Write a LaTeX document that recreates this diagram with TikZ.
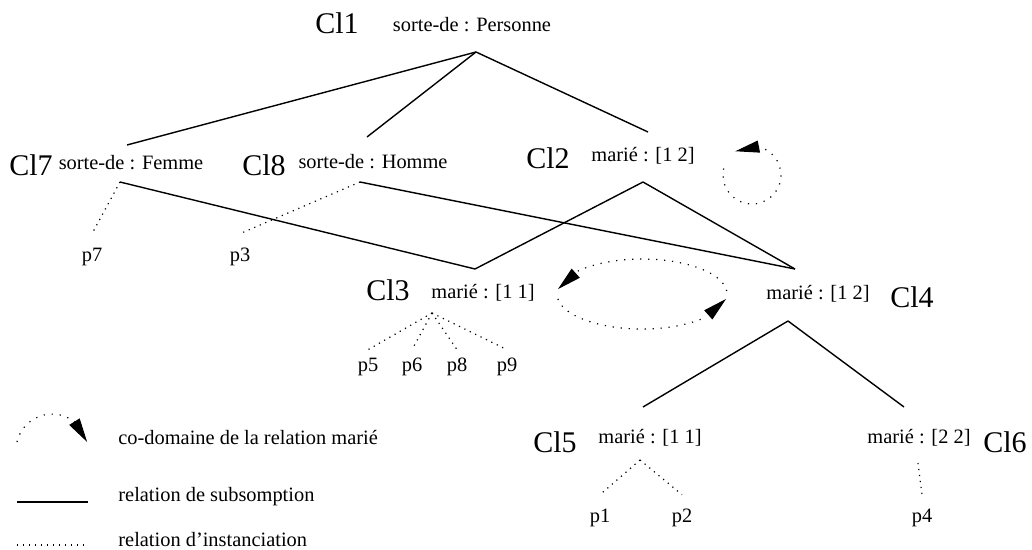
\documentclass[tikz,border=0pt]{standalone}
\usepackage{fontspec}
\setmainfont{Liberation Serif}
\usepackage{tikz}
\usetikzlibrary{arrows.meta, bending}

\begin{document}
\begin{tikzpicture}[
  x=0.5pt, y=-0.5pt,
  cls/.style={inner sep=0pt, font=\fontsize{15}{18}\selectfont},
  attr/.style={inner sep=0pt, font=\fontsize{10.2}{12}\selectfont},
  inst/.style={inner sep=7pt, font=\fontsize{10.2}{12}\selectfont},
  instfan/.style={inst, inner sep=4pt},
  subs/.style={line width=0.7pt},
  instline/.style={line width=0.6pt, dash pattern=on 0.6pt off 2.4pt},
  codom/.style={line width=0.6pt, dash pattern=on 0.6pt off 3.4pt,
                -{Triangle[length=12pt,width=6pt,flex]}}
]
\useasboundingbox (0,0) rectangle (1032,550);

\node[cls]  (cl1) at (337,23)   {Cl1};
\node[attr] (at1) at (472,25)   {sorte-de : Personne};
\node[cls]  (cl7) at (31,165)   {Cl7};
\node[attr] (at7) at (131,163)  {sorte-de : Femme};
\node[cls]  (cl8) at (264,165)  {Cl8};
\node[attr] (at8) at (373,162)  {sorte-de : Homme};
\node[cls]  (cl2) at (548,158)  {Cl2};
\node[attr] (at2) at (643,156)  {marié : [1 2]};
\node[cls]  (cl3) at (388,290)  {Cl3};
\node[attr] (at3) at (483,293)  {marié : [1 1]};
\node[cls]  (cl4) at (912,297)  {Cl4};
\node[attr] (at4) at (818,294)  {marié : [1 2]};
\node[cls]  (cl5) at (555,442)  {Cl5};
\node[attr] (at5) at (650,438)  {marié : [1 1]};
\node[cls]  (cl6) at (1005,442) {Cl6};
\node[attr] (at6) at (919,438)  {marié : [2 2]};

\node[inst]    (p7) at (92,257)  {p7};
\node[inst]    (p3) at (240,257) {p3};
\node[instfan] (p5) at (368,367) {p5};
\node[instfan] (p6) at (412,367) {p6};
\node[instfan] (p8) at (457,367) {p8};
\node[instfan] (p9) at (507,367) {p9};
\node[inst]    (p1) at (600,518) {p1};
\node[inst]    (p2) at (682,518) {p2};
\node[inst]    (p4) at (922,518) {p4};

\coordinate (j1b) at (476,52);
\coordinate (j7t) at (127,145);
\coordinate (j7b) at (120,182);
\coordinate (j8t) at (367,137);
\coordinate (j8b) at (360,182);
\coordinate (j2t) at (648,132);
\coordinate (j2b) at (643,182);
\coordinate (j3t) at (475,269);
\coordinate (j3b) at (432,313);
\coordinate (j4t) at (795,269);
\coordinate (j4b) at (788,321);
\coordinate (j5t) at (643,407);
\coordinate (j5b) at (640,460);
\coordinate (j6t) at (904,407);
\coordinate (j6b) at (918,463);

\draw[subs] (j1b) -- (j7t);
\draw[subs] (j1b) -- (j8t);
\draw[subs] (j1b) -- (j2t);
\draw[subs] (j7b) -- (j3t);
\draw[subs] (j8b) -- (j4t);
\draw[subs] (j2b) -- (j3t);
\draw[subs] (j2b) -- (j4t);
\draw[subs] (j4b) -- (j5t);
\draw[subs] (j4b) -- (j6t);

\draw[instline] (j7b) -- (p7.north);
\draw[instline] (j8b) -- (p3.north);
\draw[instline] (j3b) -- (p5.north);
\draw[instline] (j3b) -- (p6.north);
\draw[instline] (j3b) -- (p8.north);
\draw[instline] (j3b) -- (p9.north);
\draw[instline] (j5b) -- (p1.north);
\draw[instline] (j5b) -- (p2.north);
\draw[instline] (j6b) -- (p4.north);

\coordinate (lp2) at (723.7,168.5);
\coordinate (e4)  at (726.7,291);
\coordinate (e3)  at (557.8,298.9);
\draw[codom] (lp2) arc[start angle=193, end angle=-125, radius=29];
\draw[codom] (e4) arc[start angle=-5, end angle=-172, x radius=85, y radius=35];
\draw[codom] (e3) arc[start angle=172, end angle=8, x radius=85, y radius=35];

% legende
\node[attr, anchor=west] (lgc) at (118,438) {co-domaine de la relation marié};
\node[attr, anchor=west] (lgs) at (118,497) {relation de subsomption};
\node[attr, anchor=west] (lgi) at (118,540) {relation d'instanciation};
\coordinate (lga) at (17,442);
\coordinate (lgs1) at (17,502);
\coordinate (lgs2) at (88,502);
\coordinate (lgi1) at (17,545);
\coordinate (lgi2) at (88,545);
\draw[codom] (lga) arc[start angle=193, end angle=347, radius=36];
\draw[subs] (lgs1) -- (lgs2);
\draw[instline] (lgi1) -- (lgi2);
\end{tikzpicture}
\end{document}
